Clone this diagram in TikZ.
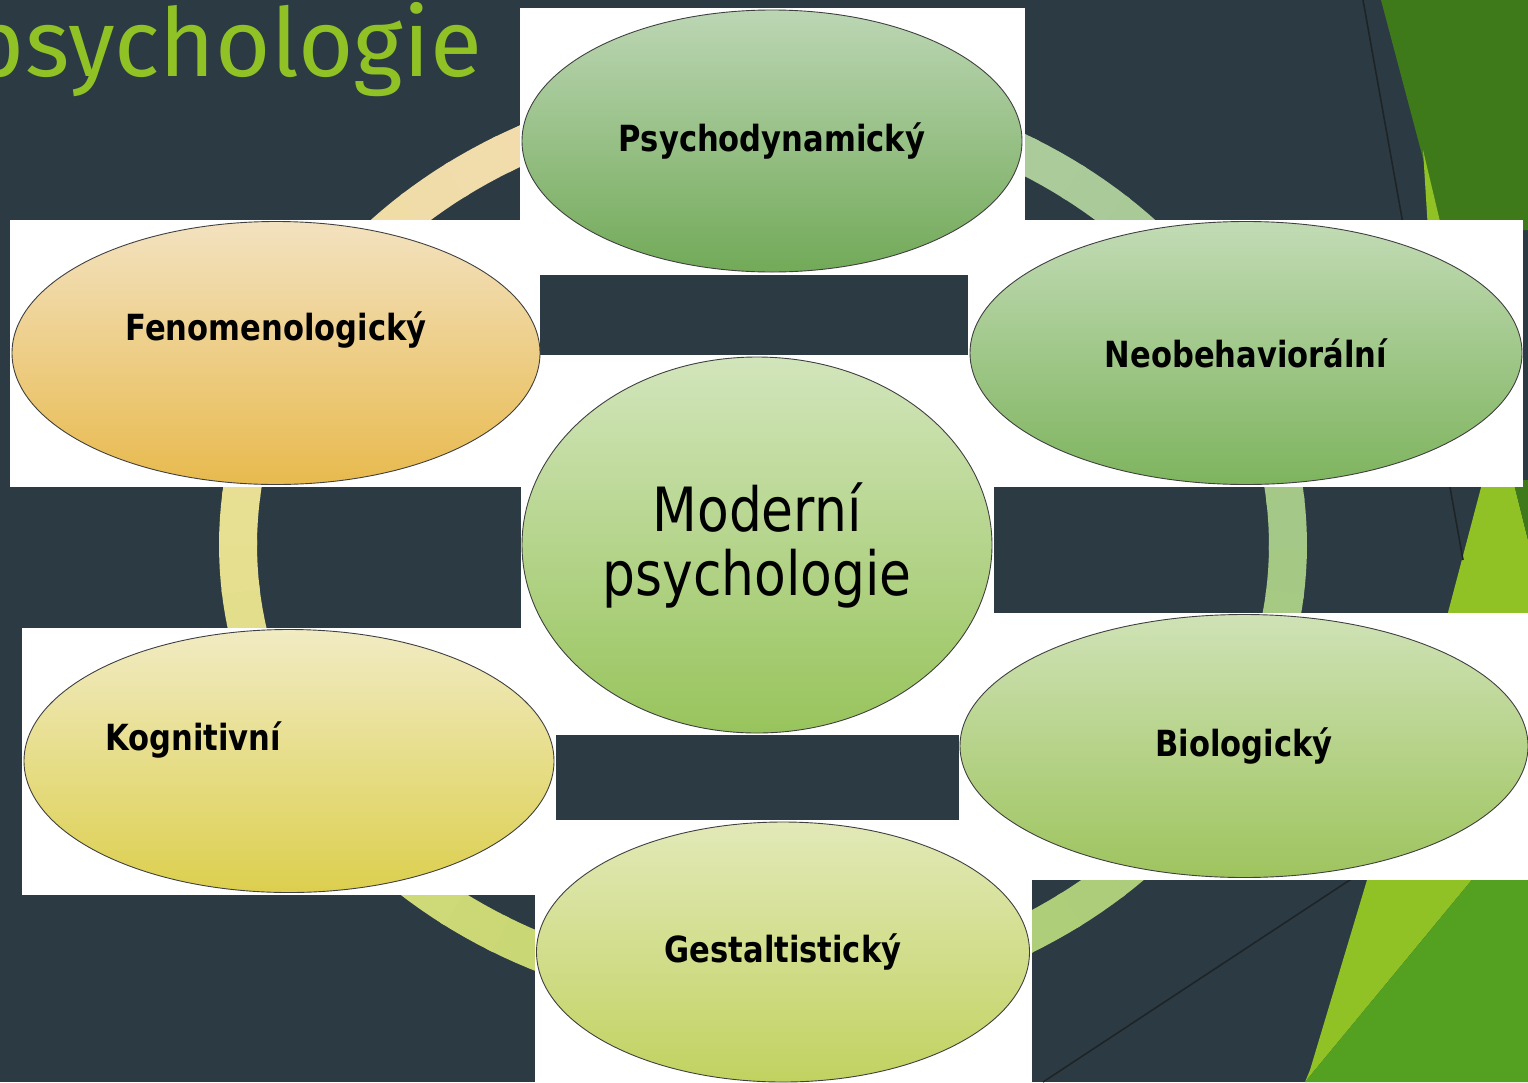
\documentclass[tikz,border=0pt]{standalone}
\usepackage{fontspec}
\usepackage{xcolor}
\usepackage{tikz}
\usetikzlibrary{shapes.geometric}
\setmainfont{DejaVu Sans}
\newfontfamily\lblfont[FakeStretch=0.85]{DejaVu Sans}
\newfontfamily\titlefont{Fira Sans}
\definecolor{slidebg}{HTML}{2C3B43}
\definecolor{titlegreen}{HTML}{90C226}
\definecolor{darkgreen}{HTML}{3F7A1A}
\definecolor{midgreen}{HTML}{54A021}
\definecolor{hairline}{HTML}{1E2426}
% ring colours, clockwise from the right
\definecolor{ringR}{HTML}{A4C886}
\definecolor{ringBR}{HTML}{B0CE78}
\definecolor{ringBL}{HTML}{CAD874}
\definecolor{ringL}{HTML}{E6DF90}
\definecolor{ringTL}{HTML}{F2DCAC}
\definecolor{ringTR}{HTML}{ABCB9C}
% ellipse fills, top / bottom
\definecolor{psyT}{HTML}{BCD6B4}\definecolor{psyB}{HTML}{72AA58}
\definecolor{fenT}{HTML}{F3E2C0}\definecolor{fenB}{HTML}{E8BA4E}
\definecolor{neoT}{HTML}{C2DBB5}\definecolor{neoB}{HTML}{7EB45E}
\definecolor{modT}{HTML}{D2E5BB}\definecolor{modB}{HTML}{98C45C}
\definecolor{kogT}{HTML}{F1EBC3}\definecolor{kogB}{HTML}{DCCF4E}
\definecolor{bioT}{HTML}{CFE2B6}\definecolor{bioB}{HTML}{9EC45E}
\definecolor{gesT}{HTML}{E2E9B8}\definecolor{gesB}{HTML}{C2D260}

\begin{document}
\begin{tikzpicture}[x=1pt,y=-1pt,
  lbl/.style={font=\lblfont\bfseries\fontsize{36}{40}\selectfont,text=black},
  blob/.style={ellipse,draw=black!75,line width=0.9pt,inner sep=0pt,lbl},
  ringseg/.style={line width=38pt,line cap=butt},
  paper/.style={fill=white},
]
\useasboundingbox (0,0) rectangle (1528,1082);
\fill[slidebg] (0,0) rectangle (1528,1082);

% green wedges on the right
\fill[darkgreen] (1381,0) -- (1528,0) -- (1528,230) -- (1442,230) -- cycle;
\fill[titlegreen] (1423,150) -- (1442,230) -- (1428,230) -- cycle;
\fill[titlegreen] (1483,480) -- (1513,480) -- (1528,540) -- (1528,620) -- (1446,620) -- cycle;
\fill[darkgreen] (1513,480) -- (1528,480) -- (1528,540) -- cycle;
\fill[titlegreen] (1370,870) -- (1480,870) -- (1305,1082) -- (1310,1070) -- cycle;
\fill[midgreen] (1480,870) -- (1528,870) -- (1528,1082) -- (1305,1082) -- cycle;
\draw[hairline,line width=1.6pt] (1363,0) -- (1463,560);
\draw[hairline,line width=1.6pt] (1043,1082) -- (1365,870);

% the ring behind the ellipses
\foreach \sa/\sb/\ca/\cb in {0/60/ringR/ringBR,60/120/ringBR/ringBL,120/180/ringBL/ringL,
    180/240/ringL/ringTL,240/270/ringTL/ringTL,270/300/ringTR/ringTR,300/360/ringTR/ringR}{
  \foreach \k in {0,...,9}{
    \pgfmathsetmacro\st{\sa+(\sb-\sa)*\k/10}
    \pgfmathsetmacro\en{\sa+(\sb-\sa)*(\k+1)/10+0.6}
    \pgfmathtruncatemacro\mx{95-10*\k}
    \draw[ringseg,draw=\ca!\mx!\cb] plot[domain=\st:\en,samples=5]
      ({763+525*cos(\x)},{545+450*sin(\x)});
  }
}

% white backgrounds of the pasted shapes
\fill[paper] (520,8) rectangle (1025,220);
\fill[paper] (520,220) rectangle (968,275);
\fill[paper] (10,220) rectangle (540,487);
\fill[paper] (968,220) rectangle (1523,487);
\fill[paper] (539,355) rectangle (968,487);
\fill[paper] (521,487) rectangle (994,613);
\fill[paper] (521,613) rectangle (556,628);
\fill[paper] (556,613) rectangle (959,735);
\fill[paper] (22,628) rectangle (556,895);
\fill[paper] (959,613) rectangle (1528,880);
\fill[paper] (535,820) rectangle (1032,1082);

\node[font=\titlefont\fontsize{95}{100}\selectfont,text=titlegreen,anchor=base east,inner sep=0pt]
  (title) at (482,76) {psychologie};

\node[blob,minimum width=500pt,minimum height=262pt,top color=psyT,bottom color=psyB]
  (psy) at (772,141) {Psychodynamický};
\node[blob,minimum width=528pt,minimum height=263pt,top color=fenT,bottom color=fenB,
  label={[lbl,yshift=23pt]center:Fenomenologický}] (fen) at (276,353) {};
\node[blob,minimum width=552pt,minimum height=263pt,top color=neoT,bottom color=neoB]
  (neo) at (1246,353) {Neobehaviorální};
\node[blob,minimum width=470pt,minimum height=376pt,top color=modT,bottom color=modB,
  font=\lblfont\fontsize{61}{64}\selectfont,align=center] (mod) at (757,545) {Moderní\\psychologie};
\node[blob,minimum width=530pt,minimum height=263pt,top color=kogT,bottom color=kogB,
  label={[lbl,xshift=-96pt,yshift=21pt]center:Kognitivní}] (kog) at (289,761) {};
\node[blob,minimum width=568pt,minimum height=263pt,top color=bioT,bottom color=bioB]
  (bio) at (1244,746) {Biologický};
\node[blob,minimum width=493pt,minimum height=260pt,top color=gesT,bottom color=gesB]
  (ges) at (783,952) {Gestaltistický};
\end{tikzpicture}
\end{document}
